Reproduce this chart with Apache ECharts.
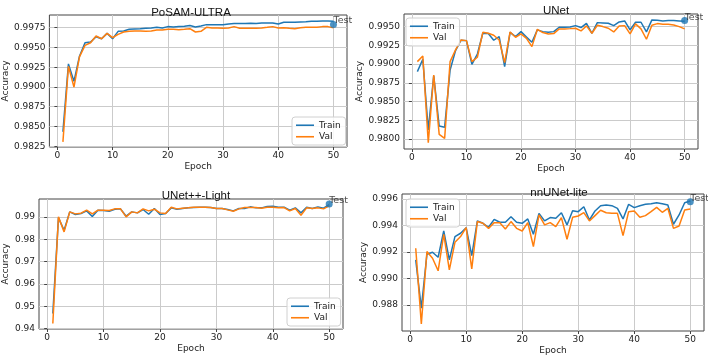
<!DOCTYPE html>
<html>
<head>
<meta charset="utf-8">
<script src="https://cdn.jsdelivr.net/npm/echarts@6/dist/echarts.min.js"></script>
<style>
  html, body { margin: 0; padding: 0; background: #fff; }
  #chart { width: 708px; height: 356px; }
</style>
</head>
<body>
<div id="chart"></div>
<script>
const epochs = [1, 2, 3, 4, 5, 6, 7, 8, 9, 10, 11, 12, 13, 14, 15, 16, 17, 18, 19, 20,
  21, 22, 23, 24, 25, 26, 27, 28, 29, 30, 31, 32, 33, 34, 35, 36, 37, 38, 39, 40,
  41, 42, 43, 44, 45, 46, 47, 48, 49, 50];
const xTicks = [0, 10, 20, 30, 40, 50];

// PoSAM-ULTRA
const posamTrain = [0.98433, 0.99291, 0.9907, 0.99389, 0.99559, 0.99567, 0.99635, 0.9961, 0.99678, 0.9961,
  0.99703, 0.99708, 0.99729, 0.99733, 0.99737, 0.99742, 0.99746, 0.99754, 0.99746, 0.99763,
  0.99759, 0.99763, 0.99767, 0.99776, 0.99759, 0.99771, 0.99788, 0.99788, 0.99788, 0.99788,
  0.99797, 0.99801, 0.99801, 0.99801, 0.99805, 0.99801, 0.9981, 0.9981, 0.9981, 0.99797,
  0.99818, 0.99818, 0.99818, 0.99822, 0.99826, 0.99831, 0.99831, 0.99835, 0.99835, 0.99831];
const posamVal = [0.98305, 0.99261, 0.98998, 0.9938, 0.99525, 0.99559, 0.99644, 0.9961, 0.99678, 0.99623,
  0.99665, 0.99695, 0.99703, 0.99708, 0.99708, 0.99703, 0.99708, 0.9972, 0.9972, 0.99729,
  0.99729, 0.99724, 0.99729, 0.99737, 0.99695, 0.99703, 0.99754, 0.99746, 0.99746, 0.99742,
  0.99746, 0.99763, 0.99742, 0.99742, 0.99742, 0.99742, 0.99746, 0.99754, 0.99763, 0.99746,
  0.9975, 0.99742, 0.99737, 0.9975, 0.99754, 0.99754, 0.99754, 0.99763, 0.99763, 0.9975];
const posamTest = 0.9979;
const posamTicks = [0.9825, 0.985, 0.9875, 0.99, 0.9925, 0.995, 0.9975];

// UNet
const unetTrain = [0.989, 0.99064, 0.98121, 0.98842, 0.98175, 0.98157, 0.98922, 0.9918, 0.99318, 0.99313,
  0.98997, 0.99135, 0.99411, 0.99407, 0.99318, 0.99367, 0.98966, 0.99424, 0.99367, 0.99433,
  0.99362, 0.99291, 0.99456, 0.99433, 0.99424, 0.99433, 0.99491, 0.99491, 0.99496, 0.99513,
  0.99487, 0.99544, 0.99411, 0.99553, 0.99549, 0.99544, 0.99513, 0.99562, 0.99576, 0.99456,
  0.99558, 0.99558, 0.99429, 0.99589, 0.99585, 0.99576, 0.9958, 0.9958, 0.99576, 0.99571];
const unetVal = [0.99033, 0.99109, 0.97952, 0.98855, 0.98063, 0.9801, 0.99033, 0.99189, 0.99322, 0.99313,
  0.99033, 0.99091, 0.99424, 0.99411, 0.99384, 0.99322, 0.9902, 0.99429, 0.99358, 0.99402,
  0.99344, 0.99233, 0.99464, 0.9942, 0.99402, 0.99407, 0.99469, 0.99469, 0.99473, 0.99478,
  0.99442, 0.99509, 0.99411, 0.99518, 0.995, 0.99478, 0.99429, 0.99509, 0.99513, 0.99402,
  0.99536, 0.99469, 0.99331, 0.99518, 0.9954, 0.99531, 0.99531, 0.99522, 0.995, 0.99469];
const unetTest = 0.9958;
const unetTicks = [0.98, 0.9825, 0.985, 0.9875, 0.99, 0.9925, 0.995];

// UNet++-Light
const unetppTrain = [0.94672, 0.98955, 0.98403, 0.99224, 0.99104, 0.99149, 0.99269, 0.99015, 0.99299, 0.99284,
  0.99254, 0.99343, 0.99358, 0.9903, 0.99224, 0.99179, 0.99328, 0.99119, 0.99373, 0.99104,
  0.99149, 0.99403, 0.99343, 0.99373, 0.99403, 0.99418, 0.99433, 0.99433, 0.99418, 0.99373,
  0.99373, 0.99328, 0.99269, 0.99373, 0.99373, 0.99448, 0.99403, 0.99403, 0.99463, 0.99478,
  0.99433, 0.99433, 0.99299, 0.99403, 0.99179, 0.99433, 0.99373, 0.99448, 0.99388, 0.99552];
const unetppVal = [0.94224, 0.99, 0.98328, 0.99224, 0.99134, 0.99164, 0.99299, 0.99134, 0.99299, 0.99299,
  0.99284, 0.99358, 0.99358, 0.99, 0.99224, 0.99179, 0.99358, 0.99269, 0.99343, 0.99179,
  0.99149, 0.99433, 0.99358, 0.99388, 0.99403, 0.99433, 0.99433, 0.99433, 0.99418, 0.99373,
  0.99373, 0.99313, 0.99254, 0.99358, 0.99418, 0.99418, 0.99418, 0.99388, 0.99433, 0.99433,
  0.99403, 0.99418, 0.99269, 0.99373, 0.99075, 0.99403, 0.99373, 0.99403, 0.99358, 0.99493];
const unetppTest = 0.9958;
const unetppTicks = [0.94, 0.95, 0.96, 0.97, 0.98, 0.99];

// nnUNet-lite
const nnunetTrain = [0.99141, 0.98778, 0.99184, 0.99199, 0.99161, 0.99359, 0.99141, 0.99317, 0.99342, 0.99384,
  0.99174, 0.99435, 0.99417, 0.99387, 0.99447, 0.99425, 0.99425, 0.99467, 0.99425, 0.99417,
  0.9945, 0.99334, 0.99492, 0.99435, 0.9946, 0.99455, 0.99497, 0.99405, 0.99512, 0.99505,
  0.99542, 0.99442, 0.9951, 0.9955, 0.99555, 0.9955, 0.9953, 0.9945, 0.9956, 0.99535,
  0.9955, 0.9956, 0.99565, 0.99572, 0.99565, 0.99555, 0.9941, 0.9948, 0.99572, 0.99585];
const nnunetVal = [0.99229, 0.98658, 0.99204, 0.99154, 0.99059, 0.99334, 0.99066, 0.99274, 0.99317, 0.99384,
  0.99074, 0.9943, 0.99417, 0.99379, 0.99422, 0.99422, 0.99374, 0.9943, 0.99379, 0.99359,
  0.99422, 0.99242, 0.9948, 0.99405, 0.99422, 0.99392, 0.9946, 0.99297, 0.99462, 0.99472,
  0.99497, 0.99435, 0.99475, 0.99515, 0.99497, 0.99492, 0.99492, 0.99324, 0.99505, 0.9951,
  0.99462, 0.99475, 0.99505, 0.99537, 0.995, 0.9953, 0.99379, 0.99397, 0.99517, 0.99525];
const nnunetTest = 0.9958;
const nnunetTicks = [0.988, 0.99, 0.992, 0.994, 0.996];

const BLUE = "#1f77b4";
const ORANGE = "#ff7f0e";
const FONT = "DejaVu Sans";

const panels = [
  {
    title: "PoSAM-ULTRA", train: posamTrain, val: posamVal, test: posamTest,
    yTicks: posamTicks, digits: 4, yMin: 0.9824, yMax: 0.9991,
    grid: { left: 48, top: 15, width: 299, height: 132 },
    titleAt: [186, 2], yGap: 39, legendAt: [292, 117],
  },
  {
    title: "UNet", train: unetTrain, val: unetVal, test: unetTest,
    yTicks: unetTicks, digits: 4, yMin: 0.97868, yMax: 0.99668,
    grid: { left: 404, top: 14, width: 294, height: 135 },
    titleAt: [551, 0], yGap: 39, legendAt: [406, 18],
  },
  {
    title: "UNet++-Light", train: unetppTrain, val: unetppVal, test: unetppTest,
    yTicks: unetppTicks, digits: 2, yMin: 0.9398, yMax: 0.998,
    grid: { left: 37, top: 199, width: 306, height: 130 },
    titleAt: [191, 185], yGap: 29, legendAt: [287, 298],
  },
  {
    title: "nnUNet-lite", train: nnunetTrain, val: nnunetVal, test: nnunetTest,
    yTicks: nnunetTicks, digits: 3, yMin: 0.98605, yMax: 0.99638,
    grid: { left: 402, top: 194, width: 302, height: 137 },
    titleAt: [554, 182], yGap: 34, legendAt: [406, 199],
  },
];

const pairs = (arr) => epochs.map((e, j) => [e, arr[j]]);

const option = {
  animation: false,
  backgroundColor: "#fff",
  textStyle: { fontFamily: FONT },
  title: [],
  legend: [],
  grid: [],
  xAxis: [],
  yAxis: [],
  series: [],
};

panels.forEach((p, i) => {
  option.title.push({
    text: p.title,
    left: p.titleAt[0],
    top: p.titleAt[1],
    textAlign: "center",
    textStyle: { fontFamily: "Liberation Sans", fontSize: 11.5, fontWeight: "normal", color: "#111" },
  });
  option.legend.push({
    data: ["Train", "Val"],
    orient: "vertical",
    left: p.legendAt[0],
    top: p.legendAt[1],
    padding: [3, 5, 3, 4],
    icon: "rect",
    itemWidth: 18,
    itemHeight: 1.6,
    itemGap: 1,
    itemTextGap: 6,
    borderColor: "#d0d0d0",
    borderWidth: 1,
    borderRadius: 3,
    backgroundColor: "rgba(255,255,255,0.85)",
    textStyle: { fontFamily: FONT, fontSize: 9, color: "#222", lineHeight: 10.5 },
    selectedMode: false,
  });
  option.grid.push(Object.assign({
    show: true,
    borderColor: "#444",
    borderWidth: 1,
    backgroundColor: "transparent",
  }, p.grid));
  option.xAxis.push({
    type: "value",
    gridIndex: i,
    min: -1.45,
    max: 52.45,
    name: "Epoch",
    nameLocation: "middle",
    nameGap: 15,
    nameTextStyle: { fontFamily: FONT, fontSize: 9, color: "#222" },
    axisLine: { show: false },
    axisTick: { show: true, length: 3, customValues: xTicks, lineStyle: { color: "#444" } },
    axisLabel: { customValues: xTicks, fontFamily: FONT, fontSize: 9, color: "#222", margin: 4 },
    splitLine: { show: true, lineStyle: { color: "#cbcbcb", width: 1 } },
  });
  option.yAxis.push({
    type: "value",
    gridIndex: i,
    min: p.yMin,
    max: p.yMax,
    name: "Accuracy",
    nameLocation: "middle",
    nameGap: p.yGap,
    nameRotate: 90,
    nameTextStyle: { fontFamily: FONT, fontSize: 9, color: "#222" },
    axisLine: { show: false },
    axisTick: { show: true, length: 3, customValues: p.yTicks, lineStyle: { color: "#444" } },
    axisLabel: {
      customValues: p.yTicks,
      fontFamily: FONT, fontSize: 9, color: "#222", margin: 4,
      formatter: (v) => Number(v).toFixed(p.digits),
    },
    splitLine: { show: true, lineStyle: { color: "#cbcbcb", width: 1 } },
  });
  option.series.push(
    {
      name: "Train", type: "line", xAxisIndex: i, yAxisIndex: i,
      data: pairs(p.train), symbol: "none", color: BLUE,
      lineStyle: { width: 1.5, color: BLUE },
    },
    {
      name: "Val", type: "line", xAxisIndex: i, yAxisIndex: i,
      data: pairs(p.val), symbol: "none", color: ORANGE,
      lineStyle: { width: 1.5, color: ORANGE },
    },
    {
      name: "Test", type: "scatter", xAxisIndex: i, yAxisIndex: i,
      data: [[50, p.test]], symbolSize: 7, z: 5,
      itemStyle: { color: BLUE },
      label: {
        show: true, formatter: "Test", position: [3.5, 5],
        align: "left", verticalAlign: "bottom",
        fontFamily: FONT, fontSize: 9.5, color: "#222",
      },
    }
  );
});

const myChart = echarts.init(document.getElementById("chart"));
myChart.setOption(option);
</script>
</body>
</html>
